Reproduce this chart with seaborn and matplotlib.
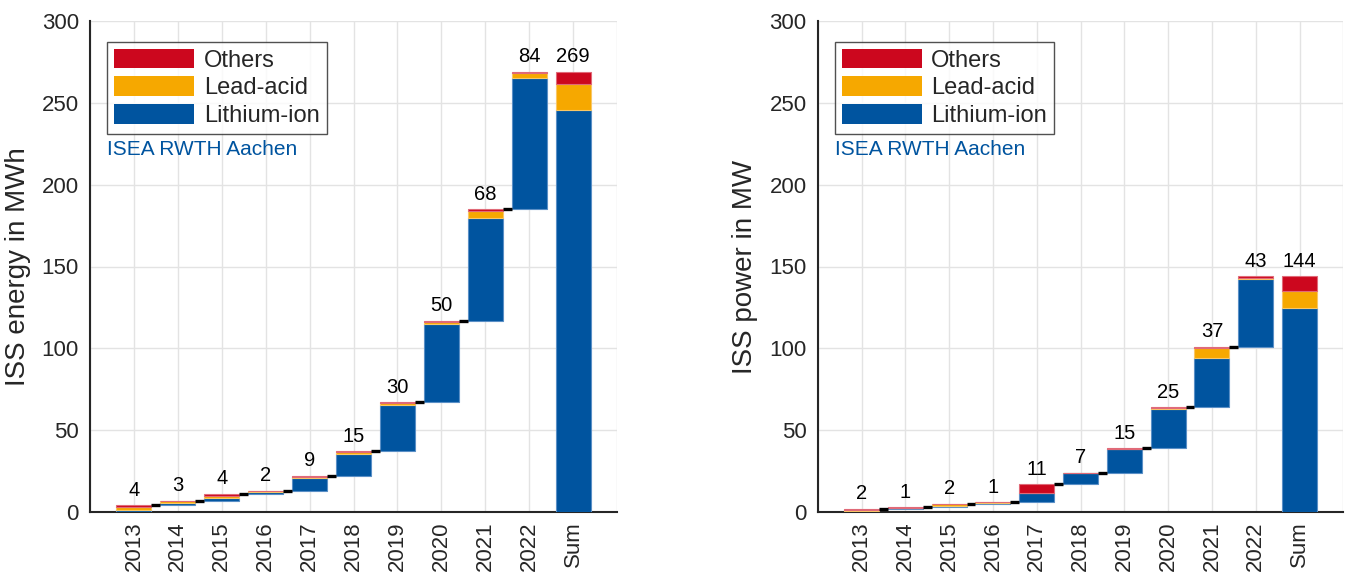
import numpy as np
import matplotlib
matplotlib.use("Agg")
import matplotlib.pyplot as plt
import seaborn as sns
from matplotlib.patches import Patch

# ---------------- data ----------------
categories = ["2013", "2014", "2015", "2016", "2017", "2018", "2019", "2020", "2021", "2022"]
sum_label = "Sum"

# energy (MWh) added per year
energy_li = [1.3, 1.5, 1.5, 1.3, 7.5, 13.5, 28.5, 48.0, 62.4, 80.4]
energy_lead = [1.5, 1.0, 1.2, 0.7, 0.7, 1.2, 1.0, 1.0, 4.5, 2.6]
energy_oth = [1.2, 0.5, 1.3, 0.0, 0.8, 0.3, 0.5, 1.0, 1.1, 1.0]

# power (MW) added per year
power_li = [0.4, 0.6, 0.8, 0.4, 5.8, 6.6, 14.3, 24.0, 30.0, 41.5]
power_lead = [0.6, 0.1, 1.0, 0.6, 0.0, 0.3, 0.2, 0.8, 6.5, 0.5]
power_oth = [1.0, 0.3, 0.2, 0.0, 5.2, 0.1, 0.5, 0.2, 0.5, 1.0]

series_names = ["Lithium-ion", "Lead-acid", "Others"]
y_ticks = [0, 50, 100, 150, 200, 250, 300]

# ---------------- style ----------------
sns.set_theme(style="whitegrid")
plt.rcParams["font.family"] = ["Liberation Sans", "DejaVu Sans"]

C_LI = "#00549F"
C_LEAD = "#F6A800"
C_OTH = "#CC071E"
EDGE = {C_LI: "#5a8fc6", C_LEAD: "#f9c766", C_OTH: "#e06a78"}
colors = [C_LI, C_LEAD, C_OTH]
AX_COL = "#262626"

fig = plt.figure(figsize=(13.45, 5.74), dpi=100)
ax1 = fig.add_axes([90 / 1345, 62 / 574, 527 / 1345, 491 / 574])
ax2 = fig.add_axes([817.7 / 1345, 62 / 574, 525.6 / 1345, 491 / 574])


def waterfall(ax, li, lead, oth, ylabel):
    li, lead, oth = np.array(li), np.array(lead), np.array(oth)
    layers = [li, lead, oth]
    totals = li + lead + oth
    cum = np.cumsum(totals)
    starts = np.concatenate([[0], cum[:-1]])
    n = len(categories)
    x = np.arange(n)
    w = 0.8
    bottom = starts.copy()
    for vals, col in zip(layers, colors):
        ax.bar(x, vals, bottom=bottom, width=w, color=col,
               edgecolor=EDGE[col], linewidth=0.8, zorder=3)
        bottom = bottom + vals
    # sum bar
    sb = 0.0
    for vals, col in zip(layers, colors):
        ax.bar([n], [vals.sum()], bottom=[sb], width=w, color=col,
               edgecolor=EDGE[col], linewidth=0.8, zorder=3)
        sb += vals.sum()
    # connectors
    for i in range(n - 1):
        ax.plot([x[i] + w / 2, x[i + 1] - w / 2], [cum[i], cum[i]],
                color="black", lw=2.4, solid_capstyle="butt", zorder=4)
    # value labels
    for i in range(n):
        ax.annotate(f"{totals[i]:.0f}", (x[i], cum[i]), xytext=(0, 4),
                    textcoords="offset points", ha="center", va="bottom",
                    fontsize=14.5, color="black", zorder=5)
    ax.annotate(f"{sb:.0f}", (n, sb), xytext=(0, 4), textcoords="offset points",
                ha="center", va="bottom", fontsize=14.5, color="black", zorder=5)

    ax.set_xlim(-1, n + 1)
    ax.set_ylim(0, 300)
    ax.set_yticks(y_ticks)
    ax.set_xticks(np.arange(-1, n + 2))
    ax.set_xticklabels([""] + categories + [sum_label] + [""], rotation=90)
    ax.set_ylabel(ylabel, fontsize=20, color=AX_COL, labelpad=8)
    ax.grid(True, color="#e3e3e3", linewidth=1.0, zorder=0)
    ax.set_axisbelow(True)
    for s in ["top", "right"]:
        ax.spines[s].set_visible(False)
    for s in ["left", "bottom"]:
        ax.spines[s].set_visible(True)
        ax.spines[s].set_color(AX_COL)
        ax.spines[s].set_linewidth(1.5)
    ax.tick_params(axis="both", direction="in", length=5, width=1.5,
                   colors=AX_COL, labelsize=16, labelcolor=AX_COL)
    ax.tick_params(axis="y", pad=8)
    ax.tick_params(axis="x", pad=7)
    ax.set_facecolor("white")

    handles = [Patch(facecolor=C_OTH, edgecolor="none", label="Others"),
               Patch(facecolor=C_LEAD, edgecolor="none", label="Lead-acid"),
               Patch(facecolor=C_LI, edgecolor="none", label="Lithium-ion")]
    leg = ax.legend(handles=handles, loc="upper left", bbox_to_anchor=(0.032, 0.958),
                    fontsize=17, frameon=True, fancybox=False, handlelength=3.4,
                    handleheight=0.9, handletextpad=0.4, labelspacing=0.2,
                    borderpad=0.3, borderaxespad=0)
    leg.get_frame().set_edgecolor("#262626")
    leg.get_frame().set_linewidth(1.0)
    leg.set_zorder(6)
    ax.text(0.032, 0.739, "ISEA RWTH Aachen", transform=ax.transAxes,
            fontsize=15, color=C_LI, ha="left", va="center", zorder=6)


waterfall(ax1, energy_li, energy_lead, energy_oth, "ISS energy in MWh")
waterfall(ax2, power_li, power_lead, power_oth, "ISS power in MW")

fig.savefig("out.png", dpi=100, facecolor="white")
